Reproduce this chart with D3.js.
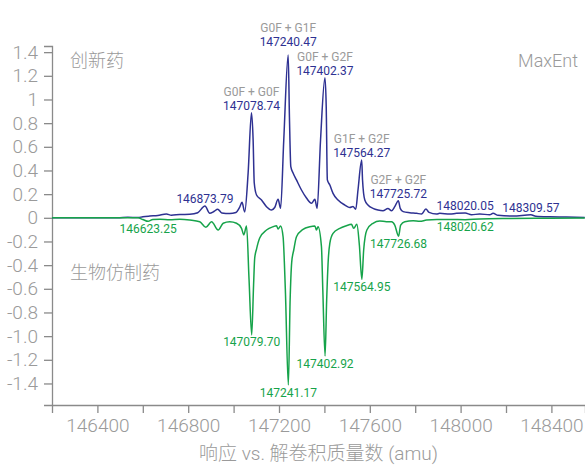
<!DOCTYPE html>
<html>
<head>
<meta charset="utf-8">
<script src="https://cdn.jsdelivr.net/npm/d3@7"></script>
<style>
  html, body { margin: 0; padding: 0; background: #fff; }
  svg { display: block; }
  text { font-family: Roboto, "Noto Sans CJK SC", sans-serif; }
</style>
</head>
<body>
<svg id="chart" width="585" height="465"></svg>
<script>
// Deconvoluted mass spectra: innovator (upper, positive) vs biosimilar (lower, mirrored)
const innovatorMass = [146200, 146490, 146534, 146578, 146600, 146631, 146666, 146704, 146726, 146763,
  146807, 146842, 146873.79, 146895, 146913, 146930, 146948, 146983, 147010, 147027, 147037, 147049,
  147064, 147078.74, 147086, 147091, 147101, 147123, 147145, 147167, 147181, 147196, 147207, 147221,
  147240.47, 147246, 147252, 147262, 147277, 147299, 147321, 147343, 147358, 147368, 147383,
  147402.37, 147408, 147413, 147424, 147438, 147460, 147490, 147512, 147526, 147538, 147548,
  147564.27, 147568, 147578, 147592, 147614, 147636, 147658, 147680, 147696, 147710,
  147725.72, 147734, 147747, 147776, 147806, 147828, 147847, 147861, 147894, 147908, 147952, 147982,
  148020.05, 148048, 148084, 148128, 148143, 148165, 148231, 148309.57, 148331, 148393, 148466, 148547];
const innovatorResp = [0, 0, 0.004, 0.002, 0.009, 0.015, 0.020, 0.032, 0.022, 0.028,
  0.030, 0.043, 0.10, 0.038, 0.053, 0.073, 0.041, 0.036, 0.045, 0.091, 0.131, 0.049,
  0.379, 0.888, 0.658, 0.294, 0.193, 0.150, 0.094, 0.066, 0.087, 0.156, 0.080, 0.658,
  1.376, 0.85, 0.432, 0.379, 0.320, 0.235, 0.167, 0.123, 0.156, 0.080, 0.658,
  1.184, 0.94, 0.320, 0.277, 0.207, 0.150, 0.108, 0.087, 0.096, 0.072, 0.235,
  0.489, 0.320, 0.150, 0.108, 0.080, 0.066, 0.060, 0.079, 0.060, 0.094,
  0.145, 0.080, 0.052, 0.043, 0.038, 0.032, 0.074, 0.046, 0.032, 0.038, 0.032, 0.038,
  0.041, 0.026, 0.032, 0.026, 0.038, 0.021, 0.015, 0.026, 0.014, 0.009, 0.007, 0.003];

const biosimilarMass = [146200, 146578, 146600, 146623.25, 146644, 146675, 146719, 146763, 146807,
  146851, 146878, 146903, 146932, 146954, 146983, 147013, 147035, 147045, 147057, 147068,
  147079.70, 147088, 147093, 147101, 147115, 147145, 147174, 147189, 147196, 147207, 147218, 147228,
  147241.17, 147249, 147256, 147265, 147277, 147306, 147336, 147358, 147365, 147372, 147387, 147393,
  147402.92, 147410, 147417, 147424, 147438, 147468, 147497, 147519, 147529, 147543, 147554,
  147564.95, 147573, 147587, 147614, 147644, 147673, 147696, 147710,
  147726.68, 147736, 147754, 147791, 147820, 147850, 147896, 147952,
  148020.62, 148084, 148217, 148393, 148547];
const biosimilarResp = [0, 0, -0.014, -0.03, -0.014, -0.013, -0.017, -0.013, -0.019,
  -0.033, -0.080, -0.033, -0.103, -0.046, -0.033, -0.046, -0.089, -0.145, -0.069, -0.52,
  -0.99, -0.568, -0.340, -0.264, -0.171, -0.103, -0.075, -0.067, -0.095, -0.069, -0.160, -0.61,
  -1.413, -0.695, -0.374, -0.272, -0.160, -0.097, -0.075, -0.069, -0.103, -0.075, -0.244, -0.61,
  -1.168, -0.695, -0.357, -0.213, -0.131, -0.089, -0.067, -0.055, -0.089, -0.055, -0.23,
  -0.52, -0.272, -0.103, -0.046, -0.027, -0.033, -0.033, -0.061,
  -0.155, -0.061, -0.033, -0.025, -0.030, -0.019, -0.014, -0.014,
  -0.016, -0.010, -0.006, -0.003, -0.002];

// Annotated peaks
const innovatorPeakMass = [146873.79, 147078.74, 147240.47, 147402.37, 147564.27, 147725.72, 148020.05, 148309.57];
const innovatorPeakResp = [0.10, 0.888, 1.376, 1.184, 0.489, 0.145, 0.041, 0.026];
const innovatorGlycoforms = ["", "G0F + G0F", "G0F + G1F", "G0F + G2F", "G1F + G2F", "G2F + G2F", "", ""];
const biosimilarPeakMass = [146623.25, 147079.70, 147241.17, 147402.92, 147564.95, 147726.68, 148020.62];
const biosimilarPeakResp = [-0.03, -0.99, -1.413, -1.168, -0.52, -0.155, -0.016];

// Axis ticks
const xTickValues = [146400, 146600, 146800, 147000, 147200, 147400, 147600, 147800, 148000, 148200, 148400];
const xTickLabels = ["146400", "", "146800", "", "147200", "", "147600", "", "148000", "", "148400"];
const yTickValues = [1.4, 1.2, 1.0, 0.8, 0.6, 0.4, 0.2, 0, -0.2, -0.4, -0.6, -0.8, -1.0, -1.2, -1.4];
const yTickLabels = ["1.4", "1.2", "1", "0.8", "0.6", "0.4", "0.2", "0", "-0.2", "-0.4", "-0.6", "-0.8", "-1.0", "-1.2", "-1.4"];

const BLUE = "#2e3192", GREEN = "#16a34a", GREY_TEXT = "#9a9a9a", AXIS = "#8a8a8a";

const svg = d3.select("#chart");
const plotLeft = 52, plotRight = 585, plotTop = 46, plotBottom = 405;

const x = d3.scaleLinear().domain([146200, 148548]).range([plotLeft, plotRight]);
const y = d3.scaleLinear().domain([-1.582, 1.452]).range([plotBottom, plotTop]);

// Axes
const xAxis = d3.axisBottom(x).tickValues(xTickValues)
  .tickFormat((d, i) => xTickLabels[i]).tickSizeOuter(0).tickSize(8).tickPadding(6);
const gx = svg.append("g").attr("transform", `translate(0,${plotBottom})`).call(xAxis);
gx.select(".domain").attr("stroke", AXIS).attr("stroke-width", 1.3);
gx.selectAll(".tick line").attr("stroke", AXIS).attr("stroke-width", 1.3);
gx.selectAll(".tick text").attr("fill", GREY_TEXT).attr("font-size", 19).attr("font-weight", 300)
  .attr("font-family", "Roboto, sans-serif");

const yAxis = d3.axisLeft(y).tickValues(yTickValues)
  .tickFormat((d, i) => yTickLabels[i]).tickSizeOuter(0).tickSize(8).tickPadding(6);
const gy = svg.append("g").attr("transform", `translate(${plotLeft},0)`).call(yAxis);
gy.select(".domain").attr("stroke", AXIS).attr("stroke-width", 1.3);
gy.selectAll(".tick line").attr("stroke", AXIS).attr("stroke-width", 1.3);
gy.selectAll(".tick text").attr("fill", GREY_TEXT).attr("font-size", 19).attr("font-weight", 300)
  .attr("font-family", "Roboto, sans-serif");

// Spectra
const line = d3.line().x(d => x(d[0])).y(d => y(d[1])).curve(d3.curveMonotoneX);
const innovator = innovatorMass.map((m, i) => [m, innovatorResp[i]]);
const biosimilar = biosimilarMass.map((m, i) => [m, biosimilarResp[i]]);

svg.append("path").datum(innovator).attr("d", line)
  .attr("fill", "none").attr("stroke", BLUE).attr("stroke-width", 1.5).attr("stroke-linejoin", "round");
svg.append("path").datum(biosimilar).attr("d", line)
  .attr("fill", "none").attr("stroke", GREEN).attr("stroke-width", 1.5).attr("stroke-linejoin", "round");

// Peak labels: innovator above (mass + glycoform pair), biosimilar below
const labelFont = "Roboto, sans-serif";
const labelSize = 12;
const groups = innovatorPeakMass.map((m, i) => {
  const px = x(m), py = y(innovatorPeakResp[i]);
  const g = svg.append("g");
  g.append("text").attr("x", px).attr("y", py - 3).attr("text-anchor", "middle")
    .attr("font-size", labelSize).attr("fill", BLUE).attr("font-family", labelFont)
    .text(m.toFixed(2));
  if (innovatorGlycoforms[i]) {
    g.append("text").attr("x", px).attr("y", py - 17).attr("text-anchor", "middle")
      .attr("font-size", labelSize).attr("fill", GREY_TEXT).attr("font-family", labelFont)
      .text(innovatorGlycoforms[i]);
  }
  return { g, resp: innovatorPeakResp[i], dy: 0 };
});

// Lift the taller peak's label pair when neighbouring pairs collide
for (let i = 0; i < groups.length - 1; i++) {
  const a = groups[i], b = groups[i + 1];
  const ba = a.g.node().getBBox(), bb = b.g.node().getBBox();
  const ay = ba.y + a.dy, by = bb.y + b.dy;
  const hOverlap = ba.x < bb.x + bb.width && bb.x < ba.x + ba.width;
  const vOverlap = ay < by + bb.height && by < ay + ba.height;
  if (hOverlap && vOverlap) {
    const hi = a.resp > b.resp ? a : b, lo = hi === a ? b : a;
    const hiBox = hi === a ? ba : bb, loBox = lo === a ? ba : bb;
    const shift = (hiBox.y + hi.dy + hiBox.height) - (loBox.y + lo.dy) + 0.5;
    hi.dy -= shift;
    hi.g.attr("transform", `translate(0,${hi.dy})`);
  }
}

biosimilarPeakMass.forEach((m, i) => {
  svg.append("text").attr("x", x(m)).attr("y", y(biosimilarPeakResp[i]) + 11.5).attr("text-anchor", "middle")
    .attr("font-size", labelSize).attr("fill", GREEN).attr("font-family", labelFont)
    .text(m.toFixed(2));
});

// Panel captions
svg.append("text").attr("x", 70).attr("y", 67).attr("font-size", 18).attr("font-weight", 300)
  .attr("fill", GREY_TEXT).text("创新药");
svg.append("text").attr("x", 70).attr("y", 279).attr("font-size", 18).attr("font-weight", 300)
  .attr("fill", GREY_TEXT).text("生物仿制药");
svg.append("text").attr("x", 578).attr("y", 67).attr("text-anchor", "end").attr("font-size", 18)
  .attr("font-weight", 300).attr("fill", GREY_TEXT).text("MaxEnt");

// X axis title
svg.append("text").attr("x", (plotLeft + plotRight) / 2).attr("y", 460).attr("text-anchor", "middle")
  .attr("font-size", 19).attr("font-weight", 300).attr("fill", GREY_TEXT)
  .text("响应 vs. 解卷积质量数 (amu)");
</script>
</body>
</html>
